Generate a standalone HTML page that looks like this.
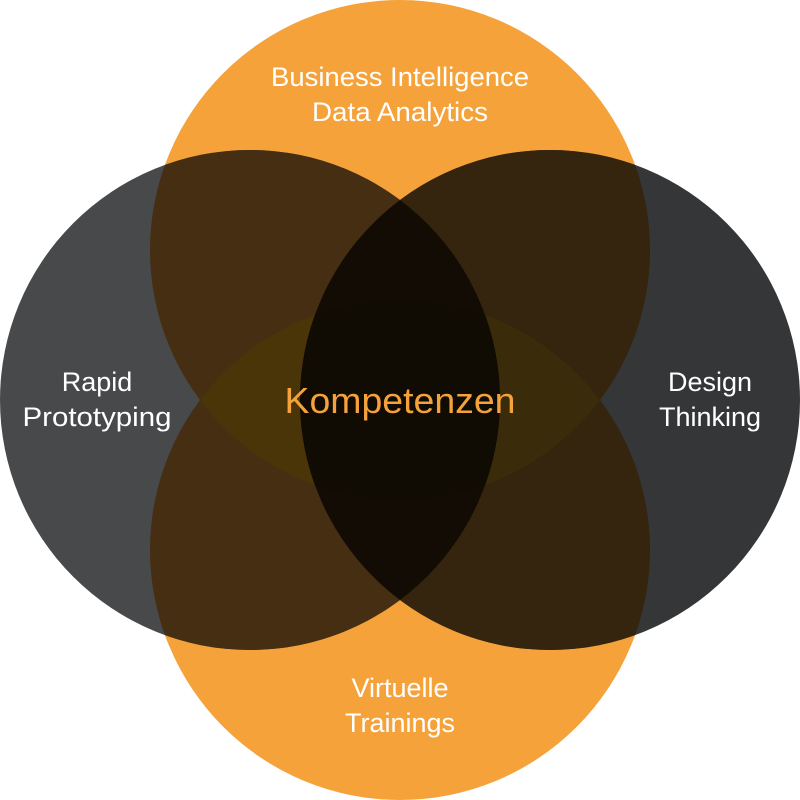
<!DOCTYPE html>
<html><head><style>html,body{margin:0;padding:0;background:#fff}svg{display:block}</style></head><body>
<svg width="800" height="800" viewBox="0 0 800 800" xmlns="http://www.w3.org/2000/svg">
<defs>
<clipPath id="L"><circle cx="250" cy="400" r="250"/></clipPath>
<clipPath id="R"><circle cx="550" cy="400" r="250"/></clipPath>
<clipPath id="T"><circle cx="400" cy="250" r="250"/></clipPath>
<clipPath id="B"><circle cx="400" cy="550" r="250"/></clipPath>
</defs>
<circle cx="400" cy="250" r="250" fill="#F4A239"/>
<circle cx="400" cy="550" r="250" fill="#F4A239"/>
<circle cx="250" cy="400" r="250" fill="#48494B"/>
<circle cx="550" cy="400" r="250" fill="#343637"/>
<g clip-path="url(#L)">
<circle cx="400" cy="250" r="250" fill="#452E12"/>
<circle cx="400" cy="550" r="250" fill="#452E12"/>
<g clip-path="url(#T)"><circle cx="400" cy="550" r="250" fill="#4A3509"/></g>
</g>
<g clip-path="url(#R)">
<circle cx="400" cy="250" r="250" fill="#35240E"/>
<circle cx="400" cy="550" r="250" fill="#35240E"/>
<g clip-path="url(#T)"><circle cx="400" cy="550" r="250" fill="#3A2B0A"/></g>
<g clip-path="url(#L)"><rect width="800" height="800" fill="#120C05"/>
<g clip-path="url(#T)"><circle cx="400" cy="550" r="250" fill="#110C03"/></g></g>
</g>
<g font-family="Liberation Sans, sans-serif" fill="#fff" font-size="27" text-anchor="middle" textLength="">
<text x="400" y="86" textLength="258" lengthAdjust="spacingAndGlyphs">Business Intelligence</text>
<text x="400" y="121" textLength="176" lengthAdjust="spacingAndGlyphs">Data Analytics</text>
<text x="97" y="391">Rapid</text>
<text x="97" y="426" textLength="149" lengthAdjust="spacingAndGlyphs">Prototyping</text>
<text x="710" y="391">Design</text>
<text x="710" y="426">Thinking</text>
<text x="400" y="697">Virtuelle</text>
<text x="400" y="732">Trainings</text>
<text x="400" y="413" fill="#F4A239" font-size="36" textLength="231" lengthAdjust="spacingAndGlyphs">Kompetenzen</text>
</g>
</svg>
</body></html>
